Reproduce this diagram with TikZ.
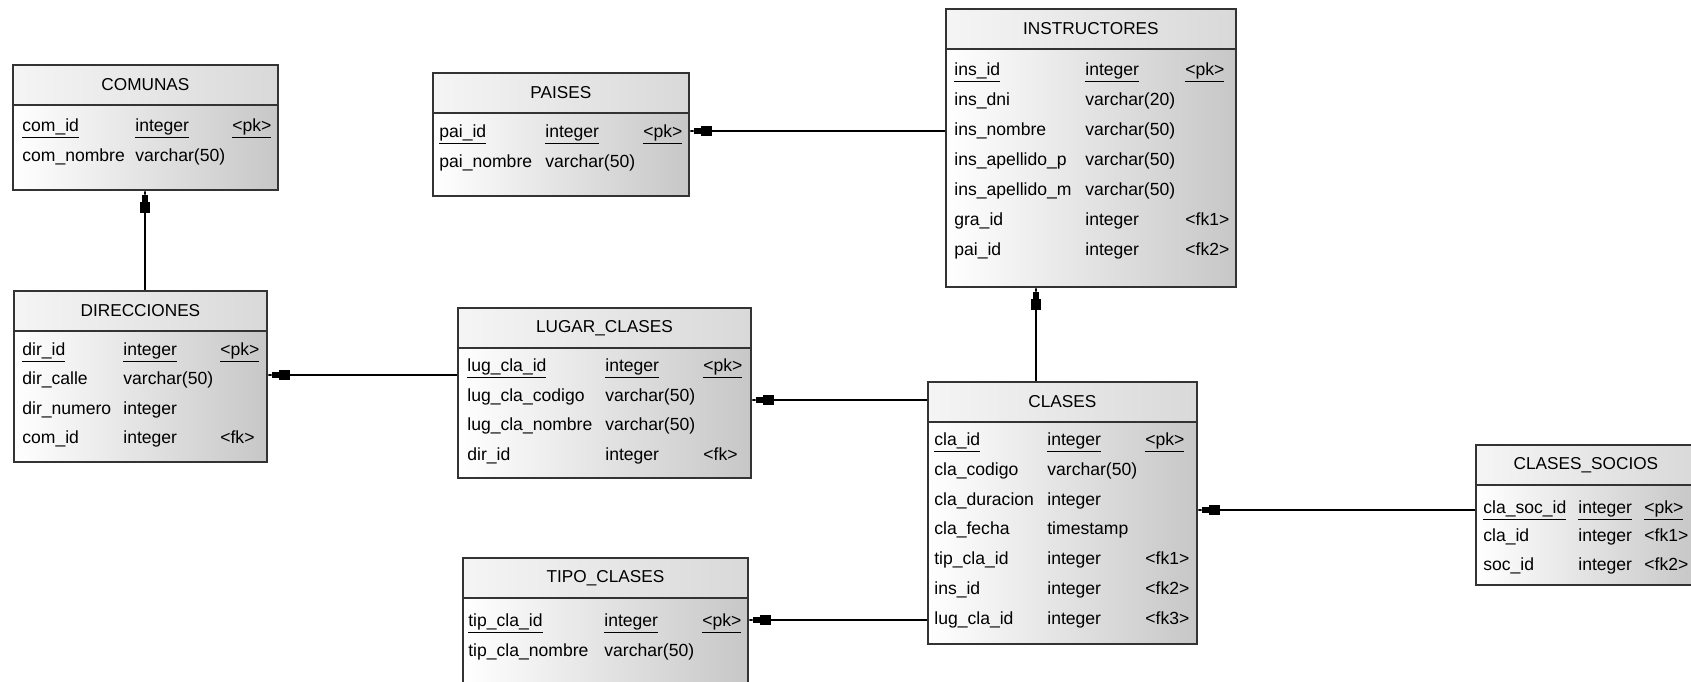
\documentclass[tikz,border=0pt]{standalone}
\usepackage{fontspec}
\setmainfont{Liberation Sans}
\usetikzlibrary{arrows.meta}

\newcommand\pk[1]{\underline{#1}}
% #1 tabla, #2-#4 x de columnas, #5 y primera fila, #6 paso, #7 filas
\newcommand\filas[7]{%
  \foreach \a/\b/\c [count=\i from 0] in {#7} {
    \node[celda] (#1-\i-a) at (#2,#5+#6*\i) {\a};
    \node[celda] (#1-\i-b) at (#3,#5+#6*\i) {\b};
    \node[celda] (#1-\i-c) at (#4,#5+#6*\i) {\c};
  }}

\begin{document}
\begin{tikzpicture}[
x=0.02cm, y=-0.02cm,
tabla/.style={draw=black!80, line width=1pt, anchor=north west, inner sep=0pt,
  left color=white, right color=black!22},
cabecera/.style={draw=black!80, line width=1.1pt, anchor=north west, inner sep=0pt,
  minimum height=0.8cm, left color=black!4, right color=black!15,
  font=\fontsize{9.8}{11}\selectfont},
celda/.style={anchor=west, inner sep=0pt, text height=7pt, text depth=2pt,
  font=\fontsize{10}{12}\selectfont},
fk/.style={line width=0.8pt,
  -{Rectangle[length=6pt,width=6pt]Rectangle[length=4pt,width=3.6pt]Rectangle[length=2.6pt,width=0.8pt]}}
]
\useasboundingbox (0,0) rectangle (1691,681);

% tablas
\node[tabla, minimum width=5.30cm, minimum height=2.50cm] (comunas) at (12,64) {};
\node[cabecera, minimum width=5.30cm] (comunas-h) at (comunas.north west) {COMUNAS};
\node[tabla, minimum width=5.12cm, minimum height=2.46cm] (paises) at (432,72) {};
\node[cabecera, minimum width=5.12cm] (paises-h) at (paises.north west) {PAISES};
\node[tabla, minimum width=5.80cm, minimum height=5.56cm] (instructores) at (945,8) {};
\node[cabecera, minimum width=5.80cm] (instructores-h) at (instructores.north west) {INSTRUCTORES};
\node[tabla, minimum width=5.06cm, minimum height=3.42cm] (direcciones) at (13,290) {};
\node[cabecera, minimum width=5.06cm] (direcciones-h) at (direcciones.north west) {DIRECCIONES};
\node[tabla, minimum width=5.86cm, minimum height=3.40cm] (lugar) at (457,307) {};
\node[cabecera, minimum width=5.86cm] (lugar-h) at (lugar.north west) {LUGAR\_CLASES};
\node[tabla, minimum width=5.38cm, minimum height=5.24cm] (clases) at (927,381) {};
\node[cabecera, minimum width=5.38cm] (clases-h) at (clases.north west) {CLASES};
\node[tabla, minimum width=4.40cm, minimum height=2.80cm] (socios) at (1475,444) {};
\node[cabecera, minimum width=4.40cm] (socios-h) at (socios.north west) {CLASES\_SOCIOS};
\node[tabla, minimum width=5.70cm, minimum height=2.90cm] (tipo) at (462,557) {};
\node[cabecera, minimum width=5.70cm] (tipo-h) at (tipo.north west) {TIPO\_CLASES};

% columnas
\filas{comunas}{22}{135}{232}{127}{30}{\pk{com\_id}/\pk{integer}/\pk{<pk>},
  com\_nombre/varchar(50)/{}}
\filas{paises}{439}{545}{643}{133}{30}{\pk{pai\_id}/\pk{integer}/\pk{<pk>},
  pai\_nombre/varchar(50)/{}}
\filas{instructores}{954}{1085}{1185}{71}{30}{\pk{ins\_id}/\pk{integer}/\pk{<pk>},
  ins\_dni/varchar(20)/{}, ins\_nombre/varchar(50)/{},
  ins\_apellido\_p/varchar(50)/{}, ins\_apellido\_m/varchar(50)/{},
  gra\_id/integer/<fk1>, pai\_id/integer/<fk2>}
\filas{direcciones}{22}{123}{220}{351}{29.5}{\pk{dir\_id}/\pk{integer}/\pk{<pk>},
  dir\_calle/varchar(50)/{}, dir\_numero/integer/{}, com\_id/integer/<fk>}
\filas{lugar}{467}{605}{703}{367}{29.7}{\pk{lug\_cla\_id}/\pk{integer}/\pk{<pk>},
  lug\_cla\_codigo/varchar(50)/{}, lug\_cla\_nombre/varchar(50)/{},
  dir\_id/integer/<fk>}
\filas{clases}{934}{1047}{1145}{441}{29.8}{\pk{cla\_id}/\pk{integer}/\pk{<pk>},
  cla\_codigo/varchar(50)/{}, cla\_duracion/integer/{}, cla\_fecha/timestamp/{},
  tip\_cla\_id/integer/<fk1>, ins\_id/integer/<fk2>, lug\_cla\_id/integer/<fk3>}
\filas{socios}{1483}{1578}{1644}{509}{28.5}{\pk{cla\_soc\_id}/\pk{integer}/\pk{<pk>},
  cla\_id/integer/<fk1>, soc\_id/integer/<fk2>}
\filas{tipo}{468}{604}{702}{622}{30}{\pk{tip\_cla\_id}/\pk{integer}/\pk{<pk>},
  tip\_cla\_nombre/varchar(50)/{}}

% relaciones
\draw[fk] (direcciones.north -| 145,0) -- (comunas.south -| 145,0);
\draw[fk] (instructores.west |- 0,131) -- (paises.east |- 0,131);
\draw[fk] (lugar.west |- 0,375) -- (direcciones.east |- 0,375);
\draw[fk] (clases.west |- 0,400) -- (lugar.east |- 0,400);
\draw[fk] (clases.north -| 1036,0) -- (instructores.south -| 1036,0);
\draw[fk] (socios.west |- 0,510) -- (clases.east |- 0,510);
\draw[fk] (clases.west |- 0,620) -- (tipo.east |- 0,620);
\end{tikzpicture}
\end{document}
